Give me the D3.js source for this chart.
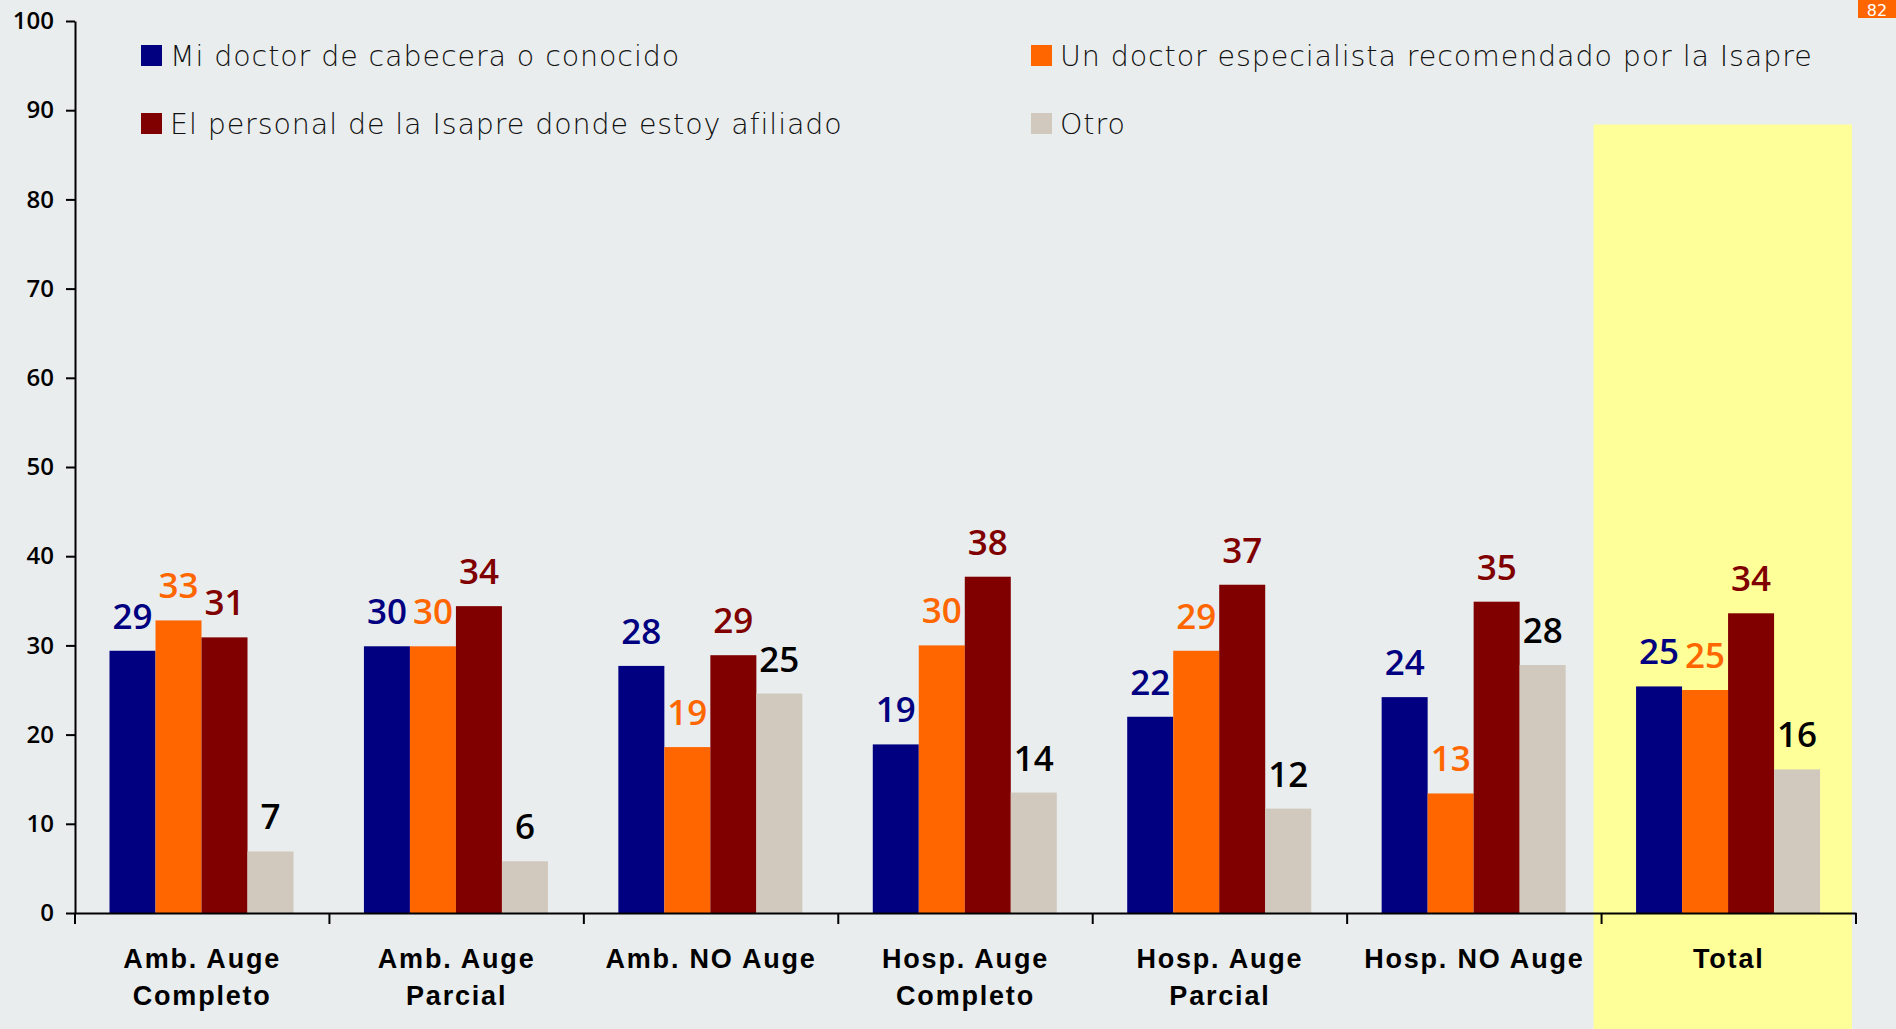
<!DOCTYPE html>
<html><head><meta charset="utf-8">
<script src="https://cdn.jsdelivr.net/npm/d3@7"></script>
<style>
html,body{margin:0;padding:0;background:#E9EDEE;}
svg{display:block;}
</style></head>
<body>
<script>
const categories = ["Amb. Auge|Completo", "Amb. Auge|Parcial", "Amb. NO Auge", "Hosp. Auge|Completo", "Hosp. Auge|Parcial", "Hosp. NO Auge", "Total"];
const seriesNames = ["Mi doctor de cabecera o conocido", "Un doctor especialista recomendado por la Isapre", "El personal de la Isapre donde estoy afiliado", "Otro"];
const miDoctor   = [29.4, 29.9, 27.7, 18.9, 22.0, 24.2, 25.4];
const unDoctor   = [32.8, 29.9, 18.6, 30.0, 29.4, 13.4, 25.0];
const elPersonal = [30.9, 34.4, 28.9, 37.7, 36.8, 34.9, 33.6];
const otro       = [6.9, 5.8, 24.6, 13.5, 11.7, 27.8, 16.1];
const yTicks = [0, 10, 20, 30, 40, 50, 60, 70, 80, 90, 100];
const highlighted = "Total";
const pageNumber = "82";

const seriesValues = [miDoctor, unDoctor, elPersonal, otro];
const barColors = ["#000080", "#FF6600", "#800000", "#D1C9BD"];
const labelColors = ["#000080", "#FF6600", "#800000", "#000000"];

const W = 1896, H = 1029;
const svg = d3.select("body").append("svg").attr("width", W).attr("height", H);
svg.append("rect").attr("width", W).attr("height", H).attr("fill", "#E9EDEE");

const x = d3.scaleBand().domain(categories).range([75, 1856]).paddingInner(0).paddingOuter(0);
const xs = d3.scaleBand().domain(d3.range(4)).range([34.5, 218.5]).padding(0);
const y = d3.scaleLinear().domain([0, 100]).range([913, 21]);

// highlight band
const hb = categories.find(c => c.replace("|"," ") === highlighted);
svg.append("rect")
  .attr("x", x(hb) - 8).attr("width", x.bandwidth() + 4)
  .attr("y", 124.5).attr("height", H - 124.5)
  .attr("fill", "#FFFF99");

// page badge
svg.append("rect").attr("x", 1858).attr("y", 0).attr("width", 38).attr("height", 18).attr("fill", "#FF6600");
svg.append("text").attr("x", 1877).attr("y", 16).attr("text-anchor", "middle")
  .attr("font-family", "'DejaVu Sans', sans-serif").attr("font-size", 16).attr("fill", "#fff").text(pageNumber);

// bars
const rows = [];
categories.forEach((c, i) => seriesValues.forEach((arr, s) => rows.push({c, s, v: arr[i]})));

svg.append("g").selectAll("rect").data(rows).join("rect")
  .attr("x", d => x(d.c) + xs(d.s))
  .attr("width", xs.bandwidth())
  .attr("y", d => y(d.v))
  .attr("height", d => y(0) - y(d.v))
  .attr("fill", d => barColors[d.s]);

svg.append("g").selectAll("text").data(rows).join("text")
  .attr("x", d => x(d.c) + xs(d.s) + xs.bandwidth() / 2)
  .attr("y", d => y(d.v) - 22)
  .attr("text-anchor", "middle")
  .attr("font-family", "'Open Sans', sans-serif")
  .attr("font-weight", 600)
  .attr("font-size", 35)
  .attr("fill", d => labelColors[d.s])
  .text(d => Math.round(d.v));

// y axis
const yAxis = svg.append("g").attr("transform", "translate(75,0)")
  .call(d3.axisLeft(y).tickValues(yTicks).tickSize(9).tickSizeOuter(0).tickPadding(12));
yAxis.select(".domain").attr("stroke", "#000").attr("stroke-width", 2);
yAxis.selectAll(".tick line").attr("stroke", "#000").attr("stroke-width", 2);
yAxis.selectAll(".tick text").attr("font-family", "'Open Sans', sans-serif").attr("font-weight", 600)
  .attr("font-size", 24).attr("fill", "#000");

// x axis
const xAxis = svg.append("g").attr("transform", "translate(0,913)")
  .call(d3.axisBottom(x).tickSize(0).tickSizeOuter(0).tickFormat(""));
xAxis.select(".domain").attr("stroke", "#000").attr("stroke-width", 2);
xAxis.selectAll(".tick line").remove();
const bounds = categories.map(c => x(c)).concat([x.range()[1]]);
svg.append("g").selectAll("line").data(bounds).join("line")
  .attr("x1", d => d).attr("x2", d => d).attr("y1", 913).attr("y2", 924)
  .attr("stroke", "#000").attr("stroke-width", 2);

const xl = svg.append("g").selectAll("text").data(categories).join("text")
  .attr("x", d => x(d) + x.bandwidth() / 2)
  .attr("y", 968)
  .attr("text-anchor", "middle")
  .attr("font-family", "'Liberation Sans', Arial, sans-serif")
  .attr("font-weight", "bold")
  .attr("font-size", 27)
  .attr("letter-spacing", 1.8)
  .attr("fill", "#000");
xl.each(function(d) {
  const lines = d.split("|");
  const t = d3.select(this);
  lines.forEach((ln, k) => t.append("tspan").attr("x", x(d) + x.bandwidth() / 2).attr("dy", k === 0 ? 0 : 36.5).text(ln));
});

// legend
const legPos = [[141, 45], [1031, 45], [141, 113], [1031, 113]];
const legOrder = [0, 1, 2, 3];
const lg = svg.append("g").selectAll("g").data(legOrder).join("g")
  .attr("transform", (d, i) => `translate(${legPos[i][0]},${legPos[i][1]})`);
lg.append("rect").attr("width", 21).attr("height", 21).attr("fill", d => barColors[d]);
lg.append("text").attr("x", 29).attr("y", 20.5)
  .attr("font-family", "'DejaVu Sans', sans-serif")
  .attr("font-weight", 300)
  .attr("font-size", 28.5)
  .attr("letter-spacing", 0.9)
  .attr("fill", "#111")
  .text(d => seriesNames[d]);
</script>
</body></html>
